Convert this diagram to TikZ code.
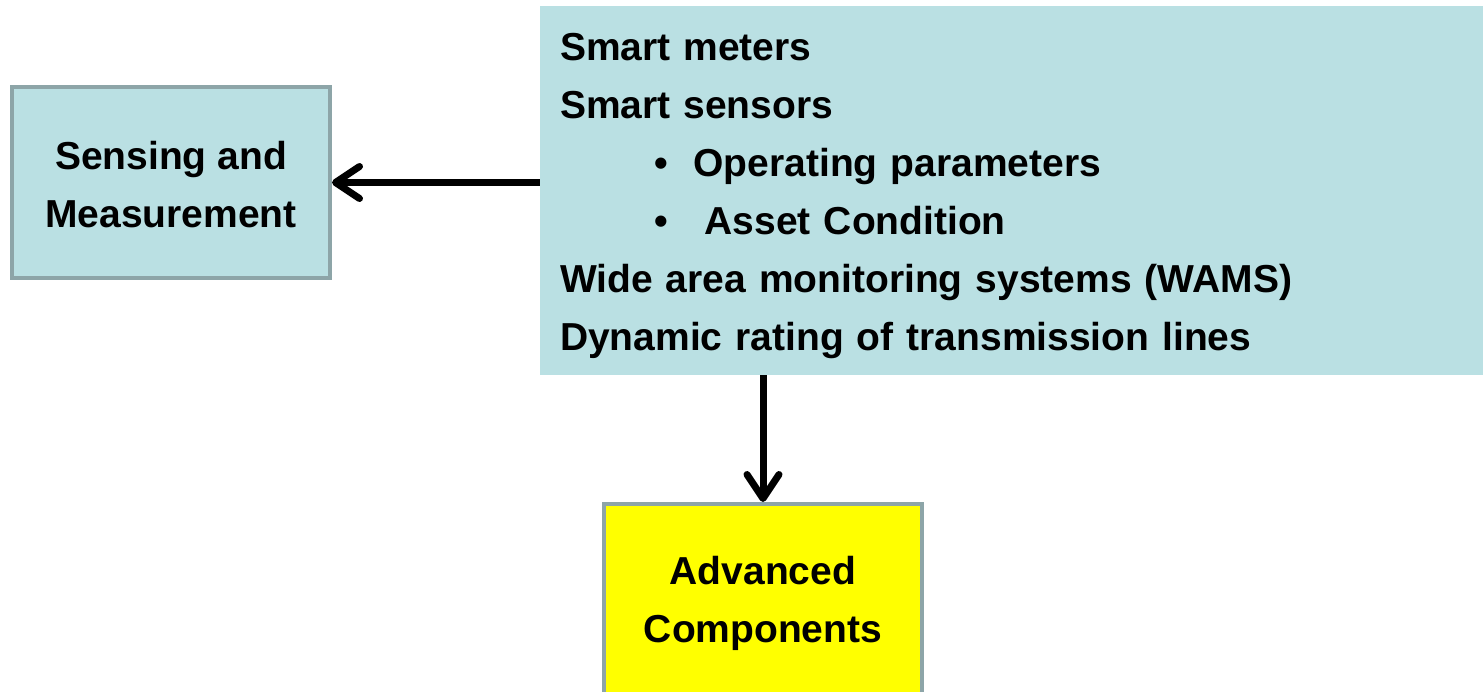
\documentclass[tikz,border=0pt]{standalone}
\usepackage{fontspec}
\setmainfont{Liberation Sans}
\usetikzlibrary{arrows.meta, positioning}
\definecolor{boxTeal}{HTML}{BAE0E3}
\definecolor{boxEdge}{HTML}{8DA5A8}
\definecolor{compYellow}{HTML}{FFFF00}

\begin{document}
\begin{tikzpicture}[x=0.5pt, y=-0.5pt,
		box/.style={rectangle, draw=boxEdge, line width=2pt, fill=boxTeal, align=center,
			inner sep=0pt, minimum width=159pt, minimum height=95.5pt,
			font=\fontsize{19.5}{29}\selectfont\bfseries},
		link/.style={line width=3.5pt, -{Straight Barb[length=12pt, width=16pt, round]}}]
		\clip (0,0) rectangle (1483,691);
		%-------------------------------------------------------------------------------
		% boxes
		%-------------------------------------------------------------------------------
		\node[box] (sense) 
			at (171,182.5) {\rule{0pt}{16pt}Sensing and\\Measurement};
		\node[rectangle, fill=boxTeal, inner xsep=10pt, inner ysep=0pt,
			minimum width=475pt, minimum height=184.5pt, text width=455pt, align=left,
			font=\fontsize{19.5}{29}\selectfont\bfseries] (devices) 
			at (1015,190.5) {\rule{0pt}{19pt}Smart meters\\
			Smart sensors\\
			\hspace*{47pt}\textbullet\hspace{13pt}Operating parameters\\
			\hspace*{47pt}\textbullet\hspace{18.5pt}Asset Condition\\
			Wide area monitoring systems (WAMS)\\
			Dynamic rating of transmission lines};
		\node[box, fill=compYellow, minimum height=97pt] (adv) 
			at (763,601) {\rule{0pt}{17pt}Advanced\\Components};
		
		% arrows
		\draw[link] (devices.west |- sense.east) -- (sense.east);
		\draw[link] (devices.south -| adv.north) -- (adv.north);
		\end{tikzpicture}
\end{document}
